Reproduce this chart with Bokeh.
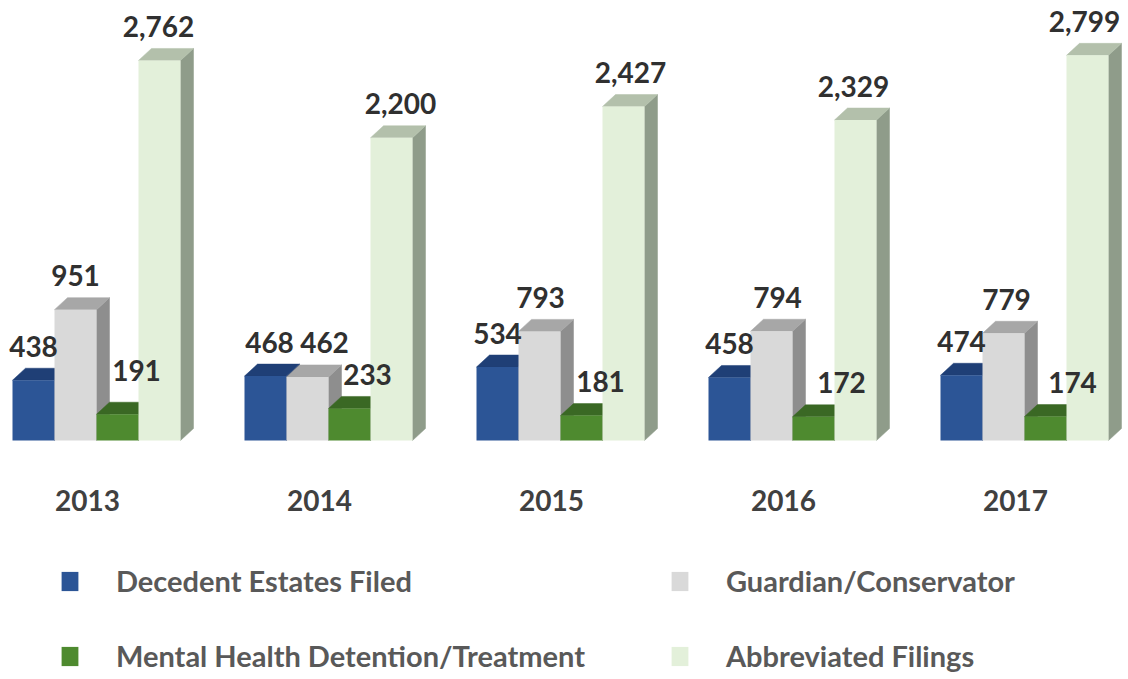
from bokeh.plotting import figure
from bokeh.models import Range1d, Legend, LegendItem, ColumnDataSource
from bokeh.embed import file_html
from bokeh.resources import INLINE
from bokeh.core.properties import value

# ---------------- data ----------------
years = ["2013", "2014", "2015", "2016", "2017"]
decedent = [438, 468, 534, 458, 474]
guardian = [951, 462, 793, 794, 779]
mental = [191, 233, 181, 172, 174]
abbreviated = [2762, 2200, 2427, 2329, 2799]
series_names = ["Decedent Estates Filed", "Guardian/Conservator",
                "Mental Health Detention/Treatment", "Abbreviated Filings"]

# ---------------- styling ----------------
front_colors = ["#2C5596", "#D9D9D9", "#4E8A2F", "#E3F0DA"]
top_colors = ["#1F3F76", "#A7A7A7", "#3A6824", "#B3C0AB"]
side_colors = ["#1A3566", "#8E8E8E", "#2F551D", "#8F9C8A"]
# label nudges in screen px, per series then per year
label_dx = [[0, 4, 0, 0, 0],
            [0, 17, 1, 6, 3],
            [19, 18, 19, 28, 27],
            [-1, 9, 7, -2, -3]]
label_dy = [[0, 0, 0, 0, 0],
            [0, 0, 0, 0, 0],
            [-10, 0, 0, 0, 0],
            [0, 0, 0, 0, 0]]

W, H = 1128, 679
PX_X = 232.0      # pixels per year group
PX_Y = 0.1376     # pixels per unit
BASE = 440        # baseline, px from top of frame
x_start = -96 / PX_X

p = figure(width=W, height=H,
           x_range=Range1d(x_start, x_start + W / PX_X),
           y_range=Range1d(-(H - BASE) / PX_Y, BASE / PX_Y),
           output_backend="svg", toolbar_location=None, min_border=0,
           x_axis_location=None, y_axis_location=None)
p.grid.visible = False
p.outline_line_color = None
p.background_fill_color = "white"

bar_w = 42 / PX_X
ddx = 13 / PX_X
ddy = 12 / PX_Y

all_series = [decedent, guardian, mental, abbreviated]
front_renderers = []
for k, vals in enumerate(all_series):
    lefts = [i + (k - 2) * bar_w for i in range(len(years))]
    rights = [l + bar_w for l in lefts]
    side_xs = [[r, r, r + ddx, r + ddx] for r in rights]
    side_ys = [[0, v, v + ddy, ddy] for v in vals]
    top_xs = [[l, l + ddx, r + ddx, r] for l, r in zip(lefts, rights)]
    top_ys = [[v, v + ddy, v + ddy, v] for v in vals]
    p.patches(side_xs, side_ys, fill_color=side_colors[k], line_color=side_colors[k], line_width=0.5)
    p.patches(top_xs, top_ys, fill_color=top_colors[k], line_color=top_colors[k], line_width=0.5)
    fr = p.quad(left=lefts, right=rights, bottom=[0] * len(vals), top=vals,
                fill_color=front_colors[k], line_color=None)
    front_renderers.append(fr)

for k, vals in enumerate(all_series):
    centers = [i + (k - 1.5) * bar_w for i in range(len(years))]
    src = ColumnDataSource(dict(
        x=centers, y=[v + ddy for v in vals],
        t=[f"{v:,}" for v in vals],
        dx=label_dx[k], dy=[-22 + d for d in label_dy[k]]))
    p.text(x="x", y="y", text="t", x_offset="dx", y_offset="dy", source=src,
           text_align="center", text_baseline="alphabetic",
           text_font=value("Lato"), text_font_style="bold",
           text_font_size="28px", text_color="#303030")

ysrc = ColumnDataSource(dict(x=list(range(len(years))), y=[0] * len(years), t=years))
p.text(x="x", y="y", text="t", source=ysrc, x_offset=-9, y_offset=60,
       text_align="center", text_baseline="alphabetic",
       text_font=value("Lato"), text_font_style="bold",
       text_font_size="28px", text_color="#404040")

# legend fills column by column: left column = series 0, 2; right column = series 1, 3
order = [0, 2, 1, 3]
items = [LegendItem(label=series_names[k], renderers=[front_renderers[k]]) for k in order]
legend = Legend(items=items, ncols=2, location=(59, 6),
                glyph_width=21, glyph_height=24, label_standoff=36,
                label_width=513, label_height=34, spacing=40,
                padding=0, margin=0,
                border_line_color=None, background_fill_alpha=0,
                label_text_font="Lato", label_text_font_style="bold",
                label_text_font_size="29px", label_text_color="#595959")
p.add_layout(legend)

open("out.html", "w").write(file_html(p, INLINE))
